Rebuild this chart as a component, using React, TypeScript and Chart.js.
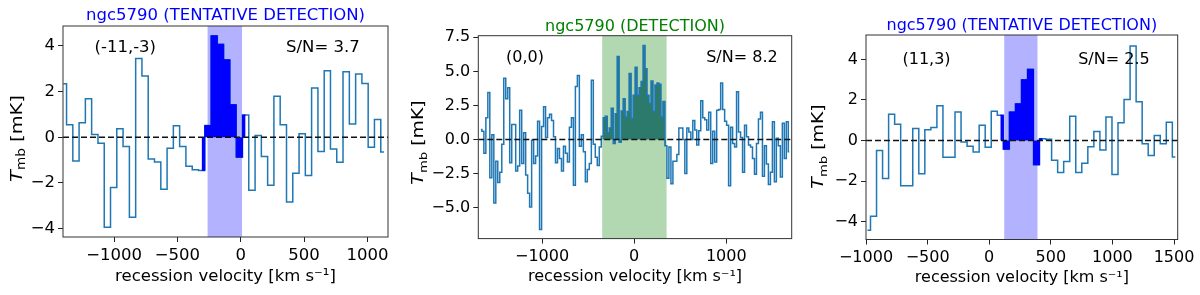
import React, { useEffect, useRef } from "react";
import { Chart, registerables } from "chart.js";

Chart.register(...registerables);

const FONT = "'DejaVu Sans', 'Liberation Sans', sans-serif";
const XLABEL = "recession velocity [km s\u207B\u00B9]";
const YLABEL_MAIN = "T";
const YLABEL_SUB = "mb";
const YLABEL_UNIT = " [mK]";
const LINE_COLOR = "#1f77b4";

// ---------------- Panel 1 : offset (-11,-3) ----------------
const P1_TITLE = "ngc5790 (TENTATIVE DETECTION)";
const P1_POS = "(-11,-3)";
const P1_SN = "S/N= 3.7";
const P1_VEL = [
  -1400, -1350, -1301, -1251, -1202, -1152, -1102, -1053, -1003, -954,
  -904, -854, -805, -755, -706, -656, -606, -557, -507, -458,
  -408, -358, -309, -259, -210, -160, -110, -61, -11, 38,
  88, 138, 187, 237, 286, 336, 386, 435, 485, 534,
  584, 634, 683, 733, 782, 832, 882, 931, 981, 1030,
  1080, 1130,
];
const P1_TMB = [
  2.34, 0.54, -1.04, 0.63, 1.68, 0.12, -0.26, -3.93, -2.2, 0.37,
  -0.41, -3.5, 3.44, 2.67, -0.95, -1.08, -2.27, -0.48, 0.5, -0.41,
  -1.27, -1.42, -1.45, 0.51, 4.43, 4.06, 3.38, 1.42, -0.87, 0.97,
  -2.32, 0.07, -0.84, -2.1, 1.79, 0.54, -2.83, -1.57, 0.15, -1.67,
  2.15, -0.62, 2.9, -0.51, -1.09, 2.86, 0.58, 2.76, 2.35, -0.44,
  0.77, -0.65,
];
const P1_FILL = [22, 29];
const P1_BAND = [-262, 10];
const P1_XTICKS = [-1000, -500, 0, 500, 1000];
const P1_YTICKS = [-4, -2, 0, 2, 4];
const P1_XLIM = [-1403, 1162];
const P1_YLIM = [-4.36, 4.86];

// ---------------- Panel 2 : offset (0,0) ----------------
const P2_TITLE = "ngc5790 (DETECTION)";
const P2_POS = "(0,0)";
const P2_SN = "S/N= 8.2";
const P2_VEL = [
  -1664, -1642, -1621, -1599, -1578, -1556, -1534, -1513, -1491, -1470,
  -1448, -1426, -1405, -1383, -1362, -1340, -1318, -1297, -1275, -1254,
  -1232, -1210, -1189, -1167, -1146, -1124, -1102, -1081, -1059, -1038,
  -1016, -994, -973, -951, -930, -908, -886, -865, -843, -822,
  -800, -778, -757, -735, -714, -692, -670, -649, -627, -606,
  -584, -562, -541, -519, -498, -476, -454, -433, -411, -390,
  -368, -346, -325, -303, -282, -260, -238, -217, -195, -174,
  -152, -130, -109, -87, -66, -44, -22, -1, 21, 42,
  64, 86, 107, 129, 150, 172, 194, 215, 237, 258,
  280, 302, 323, 345, 366, 388, 410, 431, 453, 474,
  496, 518, 539, 561, 582, 604, 626, 647, 669, 690,
  712, 734, 755, 777, 798, 820, 842, 863, 885, 906,
  928, 950, 971, 993, 1014, 1036, 1058, 1079, 1101, 1122,
  1144, 1166, 1187, 1209, 1230, 1252, 1274, 1295, 1317, 1338,
  1360, 1382, 1403, 1425, 1446, 1468, 1490, 1511, 1533, 1554,
  1576, 1598, 1619, 1641, 1662, 1684,
];
const P2_TMB = [
  0.73, 0.6, -1.0, 1.6, 3.45, -2.8, 0.35, -4.65, -1.6, -3.15,
  -2.4, -0.35, 4.5, 3.0, 3.8, -1.7, 1.1, 1.1, -2.3, -1.95,
  2.15, -1.75, 0.5, -2.6, -3.95, -4.95, -0.05, -1.75, -1.2, 1.35,
  -6.6, 0.95, 2.4, 0.15, 1.6, 1.85, 1.4, 0.2, -1.7, -0.65,
  -1.4, -2.3, -0.5, -1.0, -1.65, 0.9, 1.6, -3.35, 3.9, 4.7,
  -0.5, 0.35, -0.9, -3.1, -2.2, -1.75, 4.35, -0.35, -1.3, -1.9,
  -0.55, 0.25, 1.6, 1.7, 0.5, 0.85, 2.3, -0.3, 1.9, 6.1,
  -0.2, 2.1, 3.0, 1.65, 2.05, 4.85, 1.55, 3.25, 5.3, 3.25,
  3.8, 4.25, 6.9, 5.2, 3.25, 2.65, 4.3, 2.05, 4.0, 4.15,
  4.05, 1.65, 2.8, -0.45, -2.85, -0.55, -3.25, -1.6, -1.6, -1.1,
  0.85, 0.85, 0, -2.5, 0.85, 0.55, 0, 1.4, 0.7, -0.4,
  0.65, 2.85, 1.6, 1.45, 0.7, 2.0, -1.75, 0.6, -1.65, 2.15,
  2.2, 4.15, 2.2, 1.35, 1.05, -3.4, 0.9, -0.3, -0.55, 3.5,
  0.55, 0.15, -2.4, 1.05, 0.2, -0.4, -0.55, -1.4, -2.55, -0.3,
  1.5, 2.0, -2.7, -0.45, -1.8, -3.3, -2.4, 1.3, -3.1, 0.1,
  -0.45, -2.75, 1.2, -1.4, 1.3, -0.9,
];
const P2_FILL = [61, 93];
const P2_BAND = [-347, 352];
const P2_XTICKS = [-1000, 0, 1000];
const P2_YTICKS = [-5, -2.5, 0, 2.5, 5, 7.5];
const P2_XLIM = [-1692, 1710];
const P2_YLIM = [-7.27, 7.62];

// ---------------- Panel 3 : offset (11,3) ----------------
const P3_TITLE = "ngc5790 (TENTATIVE DETECTION)";
const P3_POS = "(11,3)";
const P3_SN = "S/N= 2.5";
const P3_VEL = [
  -988, -939, -890, -841, -792, -743, -694, -645, -596, -547,
  -498, -449, -400, -351, -302, -253, -204, -155, -106, -57,
  -8, 41, 90, 139, 188, 237, 286, 335, 384, 433,
  482, 531, 580, 629, 678, 727, 776, 825, 874, 923,
  972, 1021, 1070, 1119, 1168, 1217, 1266, 1315, 1364, 1413,
  1462, 1511,
];
const P3_TMB = [
  -4.42, -3.73, -0.49, -1.87, 1.3, 0.8, -2.22, -2.22, 0.59, -1.63,
  0.54, 0.64, 1.72, -0.82, -0.82, 1.41, -0.07, -0.28, -0.56, 0.76,
  -0.33, 1.44, 1.25, -0.42, 1.41, 1.81, 3.0, 3.51, -1.19, 0.09,
  0.07, -0.97, -1.57, -1.03, 1.2, -1.57, -1.12, -0.3, 0.45, -0.46,
  1.16, -1.67, 0.88, 2.03, 4.66, 1.91, -0.15, -0.73, 0.25, -0.15,
  0.9, -0.81,
];
const P3_FILL = [22, 29];
const P3_BAND = [122, 392];
const P3_XTICKS = [-1000, -500, 0, 500, 1000, 1500];
const P3_YTICKS = [-4, -2, 0, 2, 4];
const P3_XLIM = [-1000, 1530];
const P3_YLIM = [-4.87, 5.2];

type Layout = {
  left: number; top: number; right: number; bottom: number;
  titleY: number; titleSize: number;
  posX: number; snX: number; annY: number;
  ylabX: number; ylabY: number; xlabY: number;
  fontSize: number;
};

type Panel = {
  key: string;
  title: string; titleColor: string; pos: string; sn: string;
  vel: number[]; tmb: number[]; fill: number[]; band: number[];
  xticks: number[]; yticks: number[]; xlim: number[]; ylim: number[];
  yDecimals: number;
  bandColor: string; fillColor: string; fillEdge: number; lineOnTop: boolean;
  layout: Layout;
};

const PANELS: Panel[] = [
  {
    key: "p1", title: P1_TITLE, titleColor: "#0000ff", pos: P1_POS, sn: P1_SN,
    vel: P1_VEL, tmb: P1_TMB, fill: P1_FILL, band: P1_BAND,
    xticks: P1_XTICKS, yticks: P1_YTICKS, xlim: P1_XLIM, ylim: P1_YLIM, yDecimals: 0,
    bandColor: "#b2b2ff", fillColor: "#0000ff", fillEdge: 1, lineOnTop: false,
    layout: { left: 63, top: 26, right: 388, bottom: 237, titleY: 20, titleSize: 16.5,
      posX: 94.5, snX: 286, annY: 52, ylabX: 21.5, ylabY: 138.5, xlabY: 280.5, fontSize: 16.5 },
  },
  {
    key: "p2", title: P2_TITLE, titleColor: "#008000", pos: P2_POS, sn: P2_SN,
    vel: P2_VEL, tmb: P2_TMB, fill: P2_FILL, band: P2_BAND,
    xticks: P2_XTICKS, yticks: P2_YTICKS, xlim: P2_XLIM, ylim: P2_YLIM, yDecimals: 1,
    bandColor: "#b2d8b2", fillColor: "#2c7a6c", fillEdge: 0, lineOnTop: true,
    layout: { left: 78.3, top: 35.7, right: 391.7, bottom: 238.6, titleY: 30.5, titleSize: 16,
      posX: 106, snX: 306.2, annY: 61.7, ylabX: 23, ylabY: 142.5, xlabY: 280.7, fontSize: 16 },
  },
  {
    key: "p3", title: P3_TITLE, titleColor: "#0000ff", pos: P3_POS, sn: P3_SN,
    vel: P3_VEL, tmb: P3_TMB, fill: P3_FILL, band: P3_BAND,
    xticks: P3_XTICKS, yticks: P3_YTICKS, xlim: P3_XLIM, ylim: P3_YLIM, yDecimals: 0,
    bandColor: "#b2b2ff", fillColor: "#0000ff", fillEdge: 1, lineOnTop: false,
    layout: { left: 66, top: 35, right: 377.7, bottom: 239.5, titleY: 30.2, titleSize: 16,
      posX: 102.5, snX: 278.2, annY: 64, ylabX: 23, ylabY: 146.5, xlabY: 281.5, fontSize: 16 },
  },
];

const W = 400;
const H = 295;
const YLABEL_STRETCH = 1.18;

function fmt(v: number, dec: number): string {
  const s = Math.abs(v).toFixed(dec);
  return v < 0 ? "\u2212" + s : s;
}

function buildChart(canvas: HTMLCanvasElement, p: Panel): Chart {
  const L = p.layout;
  const spectrum = p.vel.map((v, i) => ({ x: v, y: p.tmb[i] }));
  const windowPts = spectrum.slice(p.fill[0], p.fill[1] + 1);

  const deco = {
    id: "deco_" + p.key,
    beforeDatasetsDraw(chart: any) {
      const { ctx, chartArea: ca, scales } = chart;
      const x0 = scales.x.getPixelForValue(p.band[0]);
      const x1 = scales.x.getPixelForValue(p.band[1]);
      ctx.save();
      ctx.fillStyle = p.bandColor;
      ctx.fillRect(x0, ca.top, x1 - x0, ca.bottom - ca.top);
      ctx.restore();
    },
    afterDatasetsDraw(chart: any) {
      const { ctx, chartArea: ca, scales } = chart;
      const y0 = scales.y.getPixelForValue(0);
      ctx.save();
      ctx.beginPath();
      ctx.rect(ca.left, ca.top, ca.right - ca.left, ca.bottom - ca.top);
      ctx.clip();
      ctx.strokeStyle = "#111";
      ctx.lineWidth = 1.5;
      ctx.setLineDash([6, 3]);
      ctx.beginPath();
      ctx.moveTo(ca.left, y0);
      ctx.lineTo(ca.right, y0);
      ctx.stroke();
      ctx.restore();
      ctx.save();
      ctx.strokeStyle = "#333";
      ctx.lineWidth = 1;
      ctx.strokeRect(ca.left, ca.top, ca.right - ca.left, ca.bottom - ca.top);
      ctx.restore();
    },
    afterDraw(chart: any) {
      const { ctx, chartArea: ca } = chart;
      const cx = (ca.left + ca.right) / 2;
      ctx.save();
      ctx.textBaseline = "alphabetic";
      // title
      ctx.font = `${L.titleSize}px ${FONT}`;
      ctx.fillStyle = p.titleColor;
      ctx.textAlign = "center";
      ctx.fillText(p.title, cx, L.titleY);
      // annotations
      ctx.fillStyle = "#000";
      ctx.textAlign = "left";
      ctx.font = `${L.fontSize}px ${FONT}`;
      ctx.fillText(p.pos, L.posX, L.annY);
      ctx.fillText(p.sn, L.snX, L.annY);
      // x label
      ctx.textAlign = "center";
      ctx.fillText(XLABEL, cx, L.xlabY);
      // y label (rotated)
      ctx.translate(L.ylabX, L.ylabY);
      ctx.rotate(-Math.PI / 2);
      ctx.scale(YLABEL_STRETCH, 1);
      const fMain = `italic ${L.fontSize}px ${FONT}`;
      const fSub = `${L.fontSize * 0.7}px ${FONT}`;
      const fUnit = `${L.fontSize}px ${FONT}`;
      ctx.font = fMain;
      const wMain = ctx.measureText(YLABEL_MAIN).width;
      ctx.font = fSub;
      const wSub = ctx.measureText(YLABEL_SUB).width;
      ctx.font = fUnit;
      const wUnit = ctx.measureText(YLABEL_UNIT).width;
      let x = -(wMain + wSub + wUnit) / 2;
      ctx.textAlign = "left";
      ctx.font = fMain;
      ctx.fillText(YLABEL_MAIN, x, 0);
      x += wMain;
      ctx.font = fSub;
      ctx.fillText(YLABEL_SUB, x, L.fontSize * 0.22);
      x += wSub;
      ctx.font = fUnit;
      ctx.fillText(YLABEL_UNIT, x, 0);
      ctx.restore();
    },
  };

  const tickFont = { family: FONT, size: L.fontSize };
  const grid = {
    display: true,
    drawOnChartArea: false,
    drawTicks: true,
    tickLength: 5,
    tickWidth: 1,
    tickColor: "#222",
  };

  return new Chart(canvas, {
    type: "line",
    data: {
      datasets: [
        {
          label: "spectrum",
          data: spectrum,
          stepped: "middle",
          borderColor: LINE_COLOR,
          borderWidth: 1.5,
          pointRadius: 0,
          fill: false,
          order: p.lineOnTop ? 0 : 1,
        },
        {
          label: "line window",
          data: windowPts,
          stepped: "middle",
          borderColor: p.fillColor,
          borderWidth: p.fillEdge,
          backgroundColor: p.fillColor,
          pointRadius: 0,
          fill: "origin",
          order: p.lineOnTop ? 1 : 0,
        },
      ],
    } as any,
    options: {
      responsive: false,
      animation: false,
      events: [],
      layout: { padding: { left: 0, top: L.top, right: W - L.right, bottom: 0 } },
      plugins: {
        legend: { display: false },
        title: { display: false },
        tooltip: { enabled: false },
      },
      scales: {
        x: {
          type: "linear",
          min: p.xlim[0],
          max: p.xlim[1],
          afterFit: (s: any) => { s.height = H - L.bottom; },
          afterBuildTicks: (s: any) => { s.ticks = p.xticks.map((v) => ({ value: v })); },
          ticks: {
            autoSkip: false,
            maxRotation: 0,
            padding: 4,
            color: "#000",
            font: tickFont,
            callback: (v: any) => fmt(Number(v), 0),
          },
          grid,
          border: { display: false },
        },
        y: {
          type: "linear",
          min: p.ylim[0],
          max: p.ylim[1],
          afterFit: (s: any) => { s.width = L.left; },
          afterBuildTicks: (s: any) => { s.ticks = p.yticks.map((v) => ({ value: v })); },
          ticks: {
            autoSkip: false,
            padding: 3,
            color: "#000",
            font: tickFont,
            callback: (v: any) => fmt(Number(v), p.yDecimals),
          },
          grid,
          border: { display: false },
        },
      },
    } as any,
    plugins: [deco],
  });
}

function SpectrumPanel({ panel, offsetX }: { panel: Panel; offsetX: number }) {
  const ref = useRef<HTMLCanvasElement | null>(null);
  useEffect(() => {
    if (!ref.current) return;
    const chart = buildChart(ref.current, panel);
    return () => chart.destroy();
  }, [panel]);
  return (
    <canvas
      ref={ref}
      width={W}
      height={H}
      style={{ position: "absolute", left: offsetX, top: 0, width: W, height: H }}
    />
  );
}

export default function App() {
  return (
    <div style={{ position: "fixed", left: 0, top: 0, width: 1200, height: 295, background: "#fff" }}>
      {PANELS.map((p, i) => (
        <SpectrumPanel key={p.key} panel={p} offsetX={i * W} />
      ))}
    </div>
  );
}
